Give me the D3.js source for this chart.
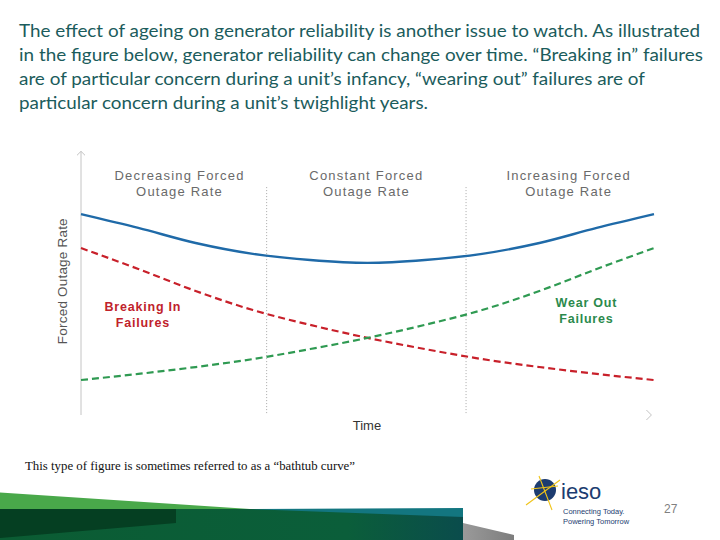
<!DOCTYPE html>
<html>
<head>
<meta charset="utf-8">
<script src="https://cdn.jsdelivr.net/npm/d3@7"></script>
<style>
  body { margin: 0; background: #fff; }
  svg { display: block; }
</style>
</head>
<body>
<svg id="slide" width="720" height="540"></svg>
<script>
// 讀圖數值：時間 0~100，故障率 0~100（相對值）
const timePoints = [0, 10, 20, 30, 40, 50, 60, 70, 80, 90, 100];
const totalRate = [75.8, 70.6, 64.9, 60.8, 58.5, 57.4, 58.5, 60.8, 64.9, 70.6, 75.8];
const breakingIn = [63.0, 55.1, 46.8, 39.6, 34.0, 29.1, 24.9, 21.1, 18.1, 15.5, 13.2];
const wearOut = [13.2, 15.5, 18.1, 21.1, 24.9, 29.1, 34.0, 39.6, 46.8, 55.1, 63.0];

const phaseBounds = [32.4, 67.2]; // 三個階段的分界
const phaseLabels = [
  ['Decreasing Forced', 'Outage Rate'],
  ['Constant Forced', 'Outage Rate'],
  ['Increasing Forced', 'Outage Rate']
];
const headerLines = [
  'The effect of ageing on generator reliability is another issue to watch.  As illustrated',
  'in the figure below, generator reliability can change over time. \u201cBreaking in\u201d failures',
  'are of particular concern during a unit\u2019s infancy, \u201cwearing out\u201d failures are of',
  'particular concern during a unit\u2019s twighlight years.'
];

const svg = d3.select('#slide');

// 標題文字
const headerWidths = [681, 684, 626, 409];
svg.append('g')
  .selectAll('text')
  .data(headerLines)
  .join('text')
  .attr('x', 19)
  .attr('y', (d, i) => 37 + i * 24)
  .attr('textLength', (d, i) => headerWidths[i])
  .attr('lengthAdjust', 'spacingAndGlyphs')
  .style('font-family', 'Lato, "Open Sans", sans-serif')
  .style('font-size', '18px')
  .style('fill', '#1b5c5c')
  .text(d => d);

// 圖表
const x = d3.scaleLinear().domain([0, 100]).range([81, 654]);
const y = d3.scaleLinear().domain([0, 100]).range([415, 150]);

const chart = svg.append('g').attr('class', 'chart');

// y 軸線與箭頭
chart.append('line')
  .attr('x1', x(0)).attr('x2', x(0))
  .attr('y1', y(0)).attr('y2', y(99.5))
  .attr('stroke', '#c4c4c4')
  .attr('stroke-width', 1);
chart.append('path')
  .attr('d', `M${x(0) - 4},${y(98)} L${x(0)},${y(99.5)} L${x(0) + 4},${y(98)}`)
  .attr('fill', 'none')
  .attr('stroke', '#c4c4c4');
// x 軸箭頭
chart.append('path')
  .attr('d', `M${x(99.2) - 3},${y(0) - 5} L${x(99.2) + 2},${y(0)} L${x(99.2) - 3},${y(0) + 5}`)
  .attr('fill', 'none')
  .attr('stroke', '#c4c4c4');

// 階段分界虛線
chart.selectAll('line.divider')
  .data(phaseBounds)
  .join('line')
  .attr('class', 'divider')
  .attr('x1', d => x(d)).attr('x2', d => x(d))
  .attr('y1', y(86)).attr('y2', y(0))
  .attr('stroke', '#a8a8a8')
  .attr('stroke-width', 1)
  .attr('stroke-dasharray', '1,2');

// 階段標籤
const labelAnchors = [17.2, 49.8, 85.1];
phaseLabels.forEach((lines, i) => {
  lines.forEach((line, j) => {
    chart.append('text')
      .attr('x', x(labelAnchors[i]))
      .attr('y', 180 + j * 16)
      .attr('text-anchor', 'middle')
      .style('font-family', '"Liberation Sans", Arial, sans-serif')
      .style('font-size', '13px')
      .style('letter-spacing', '1.2px')
      .style('fill', '#6a6a6a')
      .text(line);
  });
});

// 曲線
const line = d3.line()
  .x((d, i) => x(timePoints[i]))
  .y(d => y(d))
  .curve(d3.curveMonotoneX);

chart.append('path')
  .datum(totalRate)
  .attr('d', line)
  .attr('fill', 'none')
  .attr('stroke', '#1f6aa8')
  .attr('stroke-width', 2.4);

chart.append('path')
  .datum(breakingIn)
  .attr('d', line)
  .attr('fill', 'none')
  .attr('stroke', '#c8202a')
  .attr('stroke-width', 2.2)
  .attr('stroke-dasharray', '7,4');

chart.append('path')
  .datum(wearOut)
  .attr('d', line)
  .attr('fill', 'none')
  .attr('stroke', '#2f9a52')
  .attr('stroke-width', 2.2)
  .attr('stroke-dasharray', '7,4');

// 曲線標註
const curveNotes = [
  { lines: ['Breaking In', 'Failures'], t: 10.8, yy: 311, color: '#c0222b' },
  { lines: ['Wear Out', 'Failures'], t: 88.2, yy: 307, color: '#2b8a4c' }
];
curveNotes.forEach((note) => {
  note.lines.forEach((txt, j) => {
    chart.append('text')
      .attr('x', x(note.t))
      .attr('y', note.yy + j * 16)
      .attr('text-anchor', 'middle')
      .style('font-family', '"Liberation Sans", Arial, sans-serif')
      .style('font-size', '12.5px')
      .style('font-weight', 'bold')
      .style('letter-spacing', '0.8px')
      .style('fill', note.color)
      .text(txt);
  });
});

// 軸標題
chart.append('text')
  .attr('transform', `translate(67, ${y(50.5)}) rotate(-90)`)
  .attr('text-anchor', 'middle')
  .style('font-family', '"Liberation Sans", Arial, sans-serif')
  .style('font-size', '13.5px')
  .style('letter-spacing', '0.2px')
  .style('fill', '#555')
  .text('Forced Outage Rate');

chart.append('text')
  .attr('x', x(49.9))
  .attr('y', 430)
  .attr('text-anchor', 'middle')
  .style('font-family', '"Liberation Sans", Arial, sans-serif')
  .style('font-size', '13px')
  .style('fill', '#333')
  .text('Time');

// 註解
svg.append('text')
  .attr('x', 25)
  .attr('y', 470)
  .attr('textLength', 330)
  .attr('lengthAdjust', 'spacingAndGlyphs')
  .style('font-family', '"Liberation Serif", "Times New Roman", serif')
  .style('font-size', '12.5px')
  .style('fill', '#111')
  .text('This type of figure is sometimes referred to as a \u201cbathtub curve\u201d');

// 頁尾色帶
const defs = svg.append('defs');
const grad = defs.append('linearGradient').attr('id', 'bandGrad');
grad.append('stop').attr('offset', '0%').attr('stop-color', '#0b5c33');
grad.append('stop').attr('offset', '75%').attr('stop-color', '#0b5e3a');
grad.append('stop').attr('offset', '100%').attr('stop-color', '#0a4c4c');
const grayGrad = defs.append('linearGradient').attr('id', 'grayGrad');
grayGrad.append('stop').attr('offset', '0%').attr('stop-color', '#9a9a9a');
grayGrad.append('stop').attr('offset', '100%').attr('stop-color', '#7d7d7d');

const footer = svg.append('g').attr('class', 'footer');
footer.append('polygon')
  .attr('points', '0,492.5 250,509 0,509')
  .attr('fill', '#49a84a');
footer.append('rect')
  .attr('x', 0).attr('y', 509).attr('width', 463).attr('height', 31)
  .attr('fill', 'url(#bandGrad)');
footer.append('polygon')
  .attr('points', '250,509 463,508 463,517')
  .attr('fill', '#137680');
footer.append('polygon')
  .attr('points', '0,509 176,509 176,523 0,538')
  .attr('fill', '#053f22');
footer.append('polygon')
  .attr('points', '463,523 514,535 514,540 463,540')
  .attr('fill', 'url(#grayGrad)');

// ieso 標誌
const logo = svg.append('g').attr('class', 'logo');
logo.append('circle')
  .attr('cx', 545).attr('cy', 490).attr('r', 11)
  .attr('fill', '#1c3c70');
[[526, 505, 560, 480], [539, 476, 552, 510], [531, 489, 558, 486]].forEach((l) => {
  logo.append('line')
    .attr('x1', l[0]).attr('y1', l[1]).attr('x2', l[2]).attr('y2', l[3])
    .attr('stroke', '#f0c419')
    .attr('stroke-width', 1.1);
});
logo.append('text')
  .attr('x', 561).attr('y', 498.5)
  .style('font-family', '"Liberation Sans", Arial, sans-serif')
  .style('font-size', '22px')
  .style('fill', '#1c3c70')
  .text('ieso');
['Connecting Today.', 'Powering Tomorrow'].forEach((t, i) => {
  logo.append('text')
    .attr('x', 563).attr('y', 514 + i * 9.5)
    .style('font-family', '"Liberation Sans Narrow", "Liberation Sans", Arial, sans-serif')
    .style('font-size', '7.5px')
    .style('fill', '#1c3c70')
    .text(t);
});

svg.append('text')
  .attr('x', 664).attr('y', 513)
  .style('font-family', '"Liberation Sans", Arial, sans-serif')
  .style('font-size', '12px')
  .style('fill', '#808080')
  .text('27');
</script>
</body>
</html>
